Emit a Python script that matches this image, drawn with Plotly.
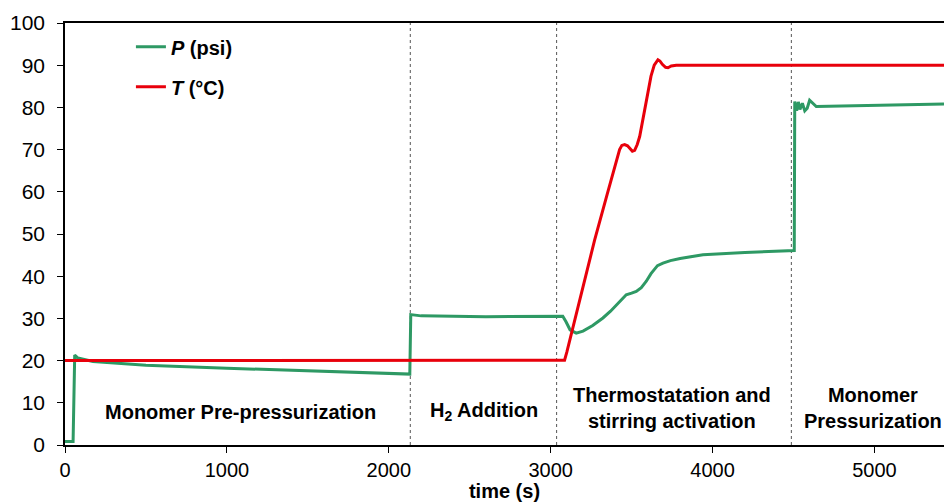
import plotly.graph_objects as go

# ---- data ----
p_time = [0, 50, 60, 80, 173, 500, 1000, 1500, 2026, 2130, 2136, 2200, 2600, 3000, 3060,
          3075, 3095, 3120, 3158, 3200, 3260, 3323, 3370, 3420, 3467, 3500, 3529, 3560,
          3591, 3620, 3660, 3694, 3740, 3800, 3870, 3941, 4200, 4456, 4505, 4508, 4520,
          4530, 4540, 4555, 4570, 4585, 4600, 4641, 4800, 5100, 5430]
p_psi = [0.8, 0.8, 21.3, 20.6, 19.8, 18.9, 18.2, 17.6, 17.1, 16.8, 30.9, 30.6, 30.4, 30.5,
         30.6, 30.5, 29.2, 27.3, 26.5, 27.0, 28.3, 30.1, 31.7, 33.8, 35.6, 36.0, 36.4,
         37.3, 38.8, 40.6, 42.5, 43.1, 43.7, 44.2, 44.7, 45.1, 45.6, 46.0, 46.1, 81.4,
         79.2, 81.3, 79.5, 81.0, 79.2, 79.8, 81.7, 80.2, 80.3, 80.5, 80.8]

t_time = [0, 3086, 3100, 3180, 3272, 3350, 3410, 3426, 3440, 3457, 3475, 3490, 3505,
          3519, 3535, 3550, 3590, 3620, 3640, 3655, 3663, 3675, 3690, 3710, 3725, 3745,
          3776, 5430]
t_degc = [20.0, 20.1, 22.0, 34.4, 48.6, 59.5, 67.8, 70.0, 71.0, 71.2, 70.9, 70.2, 69.6,
          69.8, 71.2, 73.1, 81.0, 87.4, 90.0, 91.1, 91.3, 91.0, 90.2, 89.5, 89.4, 89.8,
          90.0, 90.0]

phase_bounds = [2133, 3037, 4487]
phase_labels = ["Monomer Pre-pressurization", "H<sub>2</sub> Addition",
                "Thermostatation and<br>stirring activation", "Monomer<br>Pressurization"]
phase_label_x = [1085, 2586, 3748, 4990]
phase_label_y = [7.9, 7.9, 8.8, 8.8]

x_ticks = [0, 1000, 2000, 3000, 4000, 5000]
y_ticks = [0, 10, 20, 30, 40, 50, 60, 70, 80, 90, 100]

GREEN = "#2E9964"
RED = "#E8000B"
FONT = "Liberation Sans, Arial, sans-serif"

fig = go.Figure()
fig.add_trace(go.Scatter(x=p_time, y=p_psi, mode="lines", name="<b><i>P</i> (psi)</b>",
                         line=dict(color=GREEN, width=3), legendgroup="p"))
fig.add_trace(go.Scatter(x=t_time, y=t_degc, mode="lines", name="<b><i>T</i> (°C)</b>",
                         line=dict(color=RED, width=3), legendgroup="t"))

for b in phase_bounds:
    fig.add_shape(type="line", x0=b, x1=b, y0=0, y1=100, xref="x", yref="y",
                  line=dict(color="#555555", width=1, dash="dot"), layer="below")

for lab, lx, ly in zip(phase_labels, phase_label_x, phase_label_y):
    fig.add_annotation(x=lx, y=ly, xref="x", yref="y", text="<b>" + lab + "</b>",
                       showarrow=False, font=dict(family=FONT, size=20, color="black"),
                       align="center")

fig.update_layout(
    width=944, height=502,
    margin=dict(l=65, r=0, t=23, b=57),
    paper_bgcolor="white", plot_bgcolor="white",
    font=dict(family=FONT, color="black"),
    showlegend=True,
    legend=dict(x=0.075, y=0.99, xanchor="left", yanchor="top",
                bgcolor="rgba(0,0,0,0)", font=dict(size=20), tracegroupgap=11),
    xaxis=dict(range=[0, 5430], tickvals=x_ticks, showgrid=False, zeroline=False,
               showline=True, linecolor="black", linewidth=1.5, mirror=True,
               ticks="outside", ticklen=6, tickcolor="black",
               tickfont=dict(size=20),
               title=dict(text="<b>time (s)</b>", font=dict(size=20), standoff=2)),
    yaxis=dict(range=[0, 100], tickvals=y_ticks, showgrid=False, zeroline=False,
               showline=True, linecolor="black", linewidth=1.5,
               ticks="outside", ticklen=6, tickcolor="black", ticklabelstandoff=8,
               tickfont=dict(size=21)),
)

fig.write_html("out.html")
